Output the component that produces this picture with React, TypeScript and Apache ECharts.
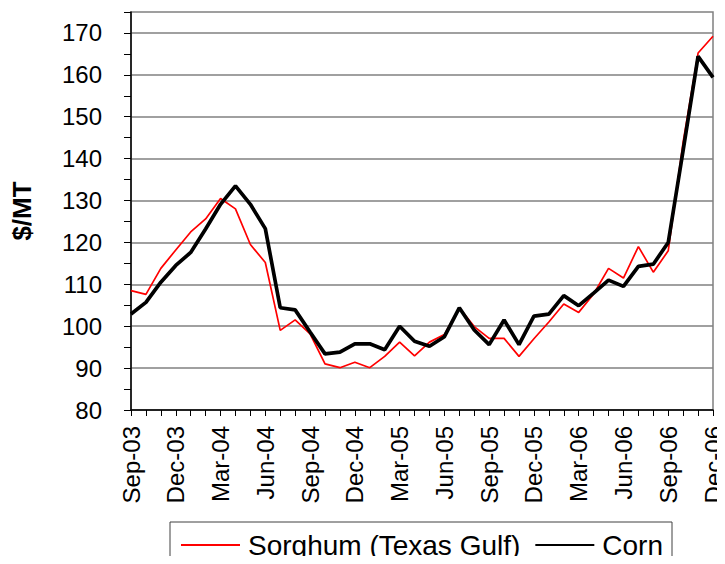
import React, { useEffect, useRef } from "react";
import * as echarts from "echarts";

const months = [
  "Sep-03", "Oct-03", "Nov-03", "Dec-03", "Jan-04", "Feb-04", "Mar-04", "Apr-04", "May-04", "Jun-04",
  "Jul-04", "Aug-04", "Sep-04", "Oct-04", "Nov-04", "Dec-04", "Jan-05", "Feb-05", "Mar-05", "Apr-05",
  "May-05", "Jun-05", "Jul-05", "Aug-05", "Sep-05", "Oct-05", "Nov-05", "Dec-05", "Jan-06", "Feb-06",
  "Mar-06", "Apr-06", "May-06", "Jun-06", "Jul-06", "Aug-06", "Sep-06", "Oct-06", "Nov-06", "Dec-06",
];

const sorghum = [
  108.5, 107.6, 113.8, 118.2, 122.5, 125.6, 130.5, 128.0, 119.5, 115.2,
  99.0, 101.5, 98.2, 91.0, 90.1, 91.4, 90.1, 92.8, 96.2, 92.9,
  96.2, 98.0, 104.4, 99.9, 97.1, 97.1, 92.8, 97.0, 101.0, 105.3,
  103.3, 107.7, 113.8, 111.5, 119.0, 112.9, 118.0, 144.0, 165.2, 169.2,
];

const corn = [
  102.9, 105.7, 110.5, 114.5, 117.6, 123.2, 129.1, 133.5, 129.1, 123.3,
  104.4, 103.9, 98.6, 93.4, 93.8, 95.8, 95.8, 94.4, 100.0, 96.4,
  95.2, 97.5, 104.4, 99.1, 95.6, 101.5, 95.6, 102.4, 102.9, 107.3,
  104.9, 107.9, 111.0, 109.5, 114.3, 114.8, 120.0, 142.0, 164.4, 159.4,
];

const seriesNames = ["Sorghum (Texas Gulf)", "Corn"];
const yAxisName = "$/MT";

const FONT = "'Liberation Sans', Arial, sans-serif";

export default function App() {
  const ref = useRef<HTMLDivElement>(null);
  useEffect(() => {
    if (!ref.current) return;
    const chart = echarts.init(ref.current, undefined, { renderer: "svg" });
    chart.setOption({
      animation: false,
      textStyle: { fontFamily: FONT, color: "#000" },
      grid: {
        left: 131,
        right: 11,
        top: 12,
        bottom: 154,
        show: true,
        borderColor: "#808080",
        borderWidth: 1.5,
      },
      legend: {
        left: 170,
        top: 522,
        padding: [9, 9, 20, 10],
        itemWidth: 59,
        itemHeight: 14,
        itemGap: 14,
        borderColor: "#404040",
        borderWidth: 1,
        itemStyle: { opacity: 0 },
        textStyle: { fontFamily: FONT, fontSize: 28, color: "#000", padding: [0, 0, 0, 3] },
        data: seriesNames,
      },
      xAxis: {
        type: "category",
        data: months,
        boundaryGap: false,
        axisLine: { lineStyle: { color: "#000", width: 1.5 } },
        axisTick: { show: true, interval: 0, length: 6, lineStyle: { color: "#000", width: 1 } },
        axisLabel: {
          interval: 2,
          rotate: 90,
          margin: 16,
          fontSize: 24,
          fontFamily: FONT,
          color: "#000",
        },
        splitLine: { show: false },
      },
      yAxis: {
        type: "value",
        min: 80,
        max: 175,
        interval: 5,
        name: yAxisName,
        nameLocation: "middle",
        nameGap: 96,
        nameTextStyle: { fontFamily: FONT, fontSize: 26, fontWeight: "bold", color: "#000" },
        axisLine: { show: true, lineStyle: { color: "#000", width: 1.5 } },
        axisTick: { show: true, length: 7, lineStyle: { color: "#000", width: 1 } },
        axisLabel: {
          margin: 29,
          fontSize: 24,
          fontFamily: FONT,
          color: "#000",
          formatter: (v: number) => (v % 10 === 0 ? String(v) : ""),
        },
        splitLine: { show: true, lineStyle: { color: ["#808080", "rgba(0,0,0,0)"], width: 1.5 } },
      },
      series: [
        {
          name: seriesNames[0],
          type: "line",
          data: sorghum,
          symbol: "none",
          lineStyle: { color: "#ff0000", width: 1.7 },
          itemStyle: { color: "#ff0000" },
        },
        {
          name: seriesNames[1],
          type: "line",
          data: corn,
          symbol: "none",
          lineStyle: { color: "#000000", width: 3.7 },
          itemStyle: { color: "#000000" },
        },
      ],
    });
    return () => chart.dispose();
  }, []);
  return <div ref={ref} style={{ width: 725, height: 564, margin: -8 }} />;
}
